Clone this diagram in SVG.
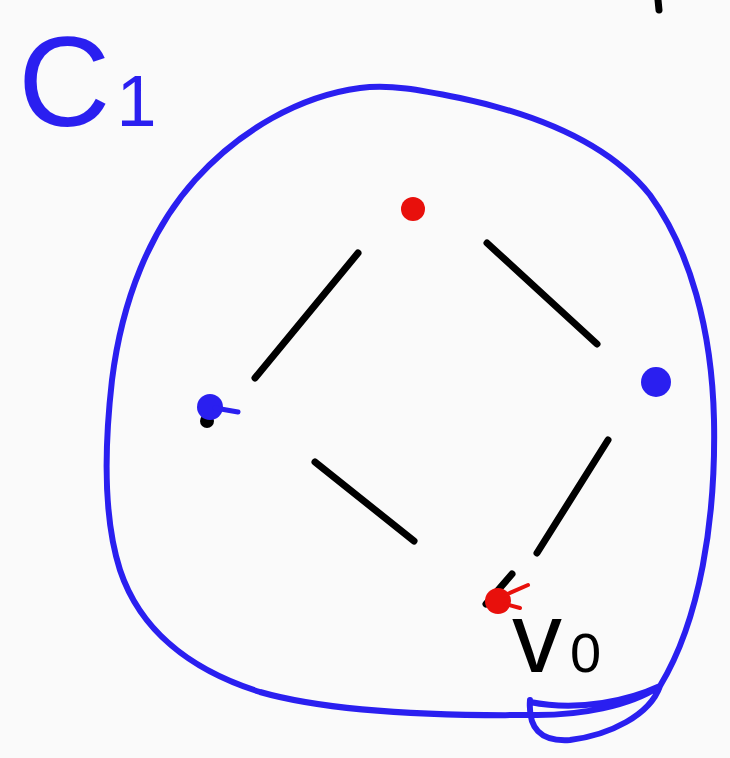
<svg xmlns="http://www.w3.org/2000/svg" width="730" height="758" viewBox="0 0 730 758">
<style>
.edge{stroke:#000;stroke-width:7;stroke-linecap:round;fill:none}
.blob{stroke:#2a1ff0;stroke-width:6;fill:none;stroke-linecap:round;stroke-linejoin:round}
.lbl{font-family:"Liberation Sans",Arial,sans-serif}
</style>
<rect width="730" height="758" fill="#fafafa"/>
<g id="cluster">
<path class="blob" d="M530,702 C580,712 630,700 660,686 C700,620 716,520 714,420 C712,330 690,250 650,195 C610,145 540,115 460,98 C420,90 390,84 360,88 C300,96 240,130 195,180 C150,230 122,300 112,380 C104,450 104,520 120,570 C140,630 190,670 260,692 C330,712 430,716 530,715 C580,716 630,706 660,686 C650,715 610,735 570,740 C540,742 528,728 530,700"/>
</g>
<g id="label-C1">
<text class="lbl" x="18" y="126" font-size="128" fill="#2a1ff0">C<tspan font-size="72" dx="6">1</tspan></text>
</g>
<g id="connectors">
<line class="edge" x1="358" y1="253" x2="255" y2="378"/>
<line class="edge" x1="487" y1="243" x2="597" y2="344"/>
<line class="edge" x1="315" y1="462" x2="414" y2="541"/>
<line class="edge" x1="608" y1="440" x2="537" y2="553"/>
<line class="edge" x1="486" y1="604" x2="512" y2="574" stroke-width="5"/>
</g>
<g id="node-top">
<circle cx="413" cy="209" r="12" fill="#e8100c"/>
</g>
<g id="node-left">
<circle cx="207" cy="421" r="7" fill="#000"/>
<circle cx="210" cy="407" r="13" fill="#2a1ff0"/>
<line x1="215" y1="408" x2="238" y2="412" stroke="#2a1ff0" stroke-width="5" stroke-linecap="round"/>
</g>
<g id="node-right">
<circle cx="656" cy="382" r="15" fill="#2a1ff0"/>
</g>
<g id="node-v0">
<circle cx="498" cy="601" r="13" fill="#e8100c"/>
<path d="M503,596 L528,585 M505,604 L520,608" stroke="#e8100c" stroke-width="4" stroke-linecap="round" fill="none"/>
<text class="lbl" x="512" y="672" font-size="100" fill="#000">v<tspan font-size="56" dx="8">0</tspan></text>
</g>
<line x1="658" y1="0" x2="659" y2="10" stroke="#000" stroke-width="7" stroke-linecap="round"/>
</svg>
